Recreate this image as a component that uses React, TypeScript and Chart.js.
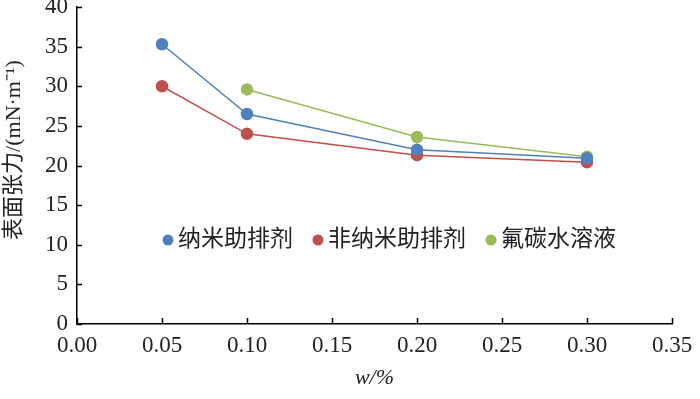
import React, { useEffect, useRef } from "react";
import { Chart, registerables } from "chart.js";

Chart.register(...registerables);

const seriesNames = ["纳米助排剂", "非纳米助排剂", "氟碳水溶液"];
const seriesColors = ["#4F81BD", "#C0504D", "#9BBB59"];
const nanoX = [0.05, 0.1, 0.2, 0.3];
const nanoY = [35.3, 26.5, 22.0, 20.9];
const nonNanoX = [0.05, 0.1, 0.2, 0.3];
const nonNanoY = [30.0, 24.0, 21.3, 20.4];
const fluoroX = [0.1, 0.2, 0.3];
const fluoroY = [29.6, 23.6, 21.1];
const yTitle = "表面张力/(mN·m⁻¹)";
const xTitle = "w/%";

const FONT = "'Liberation Serif', 'Noto Sans CJK SC', serif";

const insideTicks = {
  id: "insideTicks",
  afterDatasetsDraw(chart: any) {
    const { ctx, scales } = chart;
    const xs = scales.x;
    const ys = scales.y;
    ctx.save();
    ctx.strokeStyle = "#000";
    ctx.lineWidth = 1.5;
    ctx.beginPath();
    xs.ticks.forEach((t: any) => {
      const px = Math.round(xs.getPixelForValue(t.value)) + 0.5;
      ctx.moveTo(px, ys.bottom);
      ctx.lineTo(px, ys.bottom - 6);
    });
    ys.ticks.forEach((t: any) => {
      const py = Math.round(ys.getPixelForValue(t.value)) + 0.5;
      ctx.moveTo(xs.left, py);
      ctx.lineTo(xs.left + 5, py);
    });
    ctx.stroke();
    ctx.restore();
  },
};

const customText = {
  id: "customText",
  afterDraw(chart: any) {
    const { ctx } = chart;
    ctx.save();
    // y-axis title
    ctx.translate(14, 150);
    ctx.rotate(-Math.PI / 2);
    ctx.fillStyle = "#222";
    ctx.font = `22px ${FONT}`;
    ctx.textAlign = "center";
    ctx.textBaseline = "middle";
    ctx.fillText(yTitle, 0, 0);
    ctx.restore();

    // legend inside the plot area
    ctx.save();
    ctx.font = `23px ${FONT}`;
    ctx.textBaseline = "middle";
    ctx.textAlign = "left";
    let x = 168;
    const y = 240;
    chart.data.datasets.forEach((ds: any) => {
      ctx.fillStyle = ds.backgroundColor;
      ctx.beginPath();
      ctx.arc(x, y, 5.5, 0, Math.PI * 2);
      ctx.fill();
      ctx.fillStyle = "#222";
      ctx.fillText(ds.label, x + 10, y);
      x += 10 + ctx.measureText(ds.label).width + 25;
    });
    ctx.restore();
  },
};

function toPoints(xs: number[], ys: number[]) {
  return xs.map((x, i) => ({ x, y: ys[i] }));
}

export default function App() {
  const ref = useRef<HTMLCanvasElement>(null);
  useEffect(() => {
    document.body.style.margin = "0";
    const datasets = [
      toPoints(nanoX, nanoY),
      toPoints(nonNanoX, nonNanoY),
      toPoints(fluoroX, fluoroY),
    ].map((data, i) => ({
      label: seriesNames[i],
      data,
      borderColor: seriesColors[i],
      backgroundColor: seriesColors[i],
      pointBackgroundColor: seriesColors[i],
      pointBorderColor: seriesColors[i],
      borderWidth: 1.5,
      pointRadius: 5.5,
      pointHoverRadius: 5.5,
      tension: 0,
      clip: false as any,
    }));
    const chart = new Chart(ref.current!, {
      type: "line",
      data: { datasets },
      options: {
        animation: false,
        responsive: false,
        events: [],
        layout: { autoPadding: false, padding: { left: 0, right: 28, top: 7, bottom: 0 } },
        plugins: { legend: { display: false }, tooltip: { enabled: false } },
        scales: {
          x: {
            type: "linear",
            min: 0,
            max: 0.35,
            border: { display: true, color: "#000", width: 1.5 },
            grid: { display: false, drawTicks: false },
            ticks: {
              stepSize: 0.05,
              padding: 8,
              color: "#222",
              font: { family: FONT, size: 23 },
              callback: (v: any) => Number(v).toFixed(2),
              maxRotation: 0,
              autoSkip: false,
            },
            title: {
              display: true,
              text: xTitle,
              color: "#222",
              font: { family: FONT, size: 22, style: "italic" },
              padding: { top: 0, bottom: 8 },
            },
            afterFit: (s: any) => {
              s.height = 75;
              s.paddingLeft = 0;
              s.paddingRight = 0;
            },
          },
          y: {
            type: "linear",
            min: 0,
            max: 40,
            border: { display: true, color: "#000", width: 1.5 },
            grid: { display: false, drawTicks: false },
            ticks: {
              stepSize: 5,
              padding: 9,
              color: "#222",
              font: { family: FONT, size: 23 },
            },
            afterFit: (s: any) => {
              s.width = 77;
              s.paddingTop = 0;
              s.paddingBottom = 0;
            },
          },
        },
      },
      plugins: [insideTicks, customText],
    });
    return () => chart.destroy();
  }, []);
  return <canvas ref={ref} width={700} height={399} style={{ display: "block" }} />;
}
